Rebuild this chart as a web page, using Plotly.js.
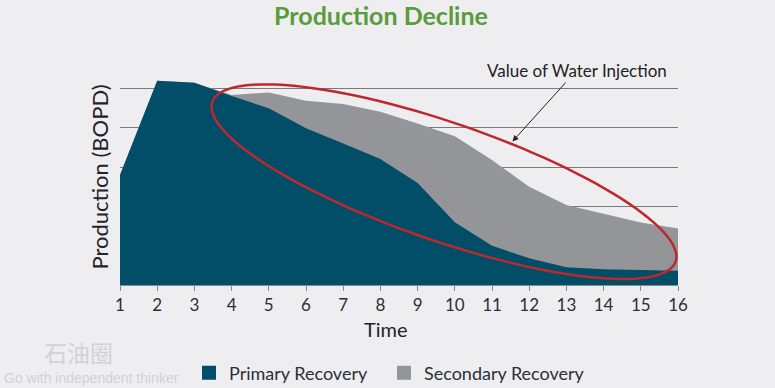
<!DOCTYPE html>
<html><head><meta charset="utf-8">
<script src="https://cdn.plot.ly/plotly-3.0.1.min.js"></script>
<style>html,body{margin:0;padding:0;background:#eeeef0;}#chart{width:775px;height:388px;}</style>
</head><body><div id="chart"></div>
<script>
const time = [1,2,3,4,5,6,7,8,9,10,11,12,13,14,15,16];
const primaryRecovery = [2.80,5.20,5.15,4.81,4.50,3.99,3.60,3.21,2.60,1.60,1.00,0.68,0.45,0.40,0.38,0.36];
const secondaryRecovery = [2.80,5.20,5.15,4.84,4.90,4.69,4.61,4.41,4.11,3.79,3.18,2.50,2.04,1.81,1.59,1.44];
const seriesNames = ['Primary Recovery','Secondary Recovery'];
const tickLabels = time.map(String);

const BLUE = '#024e68', GRAY = '#939598', BG = '#eeeef0';
const FONT = 'Lato, "Open Sans", sans-serif';

const ML = 120, MR = 97, MT = 69, MB = 103, YMAX = 5.5;
const W = 775 - ML - MR, H = 388 - MT - MB;
function px2x(p){ return 1 + (p - ML) / W * 15; }
function px2y(p){ return (388 - MB - p) / H * YMAX; }
function pxPaperX(p){ return (p - ML) / W; }
function pxPaperY(p){ return (388 - MB - p) / H; }
function ellipsePath(cx, cy, a, b, deg){
  const th = deg * Math.PI / 180; let d = '';
  for (let i = 0; i <= 120; i++){
    const t = i / 120 * 2 * Math.PI;
    const px = cx + a*Math.cos(th)*Math.cos(t) - b*Math.sin(th)*Math.sin(t);
    const py = cy + a*Math.sin(th)*Math.cos(t) + b*Math.cos(th)*Math.sin(t);
    d += (i ? 'L' : 'M') + px2x(px).toFixed(4) + ',' + px2y(py).toFixed(4);
  }
  return d + 'Z';
}

const traces = [
  {x: time, y: secondaryRecovery, type:'scatter', mode:'lines', fill:'tozeroy',
   fillcolor: GRAY, line:{width:0, color:GRAY}, showlegend:false, hoverinfo:'skip'},
  {x: time, y: primaryRecovery, type:'scatter', mode:'lines', fill:'tozeroy',
   fillcolor: BLUE, line:{width:0, color:BLUE}, showlegend:false, hoverinfo:'skip'},
  {x:[null], y:[null], type:'scatter', mode:'markers', name: seriesNames[0], legend:'legend',
   marker:{symbol:'square', size:14, color:BLUE}},
  {x:[null], y:[null], type:'scatter', mode:'markers', name: seriesNames[1], legend:'legend2',
   marker:{symbol:'square', size:14, color:GRAY}}
];

const legendBase = {orientation:'h', xref:'container', yref:'container', xanchor:'left',
  y:(388-373)/388, yanchor:'middle', font:{family:FONT, size:18, color:'#2b2f38'},
  bgcolor:'rgba(0,0,0,0)', itemwidth:30};

const layout = {
  width:775, height:388,
  margin:{l:ML, r:MR, t:MT, b:MB, pad:0, autoexpand:false},
  paper_bgcolor: BG, plot_bgcolor: BG,
  font:{family: FONT, color:'#2b2f38'},
  title:{text:'<b>Production Decline</b>', font:{family:FONT, size:25, color:'#5a9b3b'},
         x:381/775, xanchor:'center', xref:'container', y:1 - 16/388, yanchor:'middle', yref:'container'},
  showlegend:true,
  legend: Object.assign({}, legendBase, {x:189/775}),
  legend2: Object.assign({}, legendBase, {x:384/775}),
  xaxis:{range:[1,16], tickvals: time, ticktext: tickLabels, showgrid:false, zeroline:false,
         showline:true, linecolor:'#8a8a8a', linewidth:1, ticks:'outside', ticklen:5,
         tickcolor:'#8a8a8a', tickfont:{family:FONT, size:17, color:'#2b2f38'}, automargin:false,
         fixedrange:true},
  yaxis:{range:[0, YMAX], dtick:1, tick0:0, showticklabels:false, showgrid:true, automargin:false,
         gridcolor:'#7a7a7a', gridwidth:1, zeroline:false, showline:false, ticks:'',
         title:{text:'Production (BOPD)', font:{family:FONT, size:22, color:'#1f232b'}, standoff:4},
         fixedrange:true},
  shapes:[{type:'path', xref:'x', yref:'y', path: ellipsePath(444, 181.7, 245, 59, 19),
           line:{color:'#c0272d', width:2.5}, fillcolor:'rgba(0,0,0,0)', layer:'above'}],
  annotations:[
    {x: px2x(512.5), y: px2y(141.5), xref:'x', yref:'y', text:'Value of Water Injection',
     showarrow:true, arrowhead:2, arrowsize:1.2, arrowwidth:1, arrowcolor:'#222',
     ax: 64, ay: -71, font:{family:FONT, size:17, color:'#222'}},
    {x: pxPaperX(386), y: pxPaperY(329), xref:'paper', yref:'paper', xanchor:'center', yanchor:'middle',
     text:'Time', showarrow:false, font:{family:FONT, size:20, color:'#1f232b'}},
    {x: pxPaperX(78), y: pxPaperY(352), xref:'paper', yref:'paper', xanchor:'center', yanchor:'middle',
     text:'石油圈', showarrow:false,
     font:{family:'"Noto Sans CJK SC", sans-serif', size:23, color:'#d2d2d4'}},
    {x: pxPaperX(2), y: pxPaperY(378), xref:'paper', yref:'paper', xanchor:'left', yanchor:'middle',
     text:'Go with independent thinker', showarrow:false,
     font:{family:'"Liberation Sans", sans-serif', size:14, color:'#d2d2d4'}}
  ]
};

Plotly.newPlot('chart', traces, layout, {displayModeBar:false, staticPlot:true});
</script></body></html>
